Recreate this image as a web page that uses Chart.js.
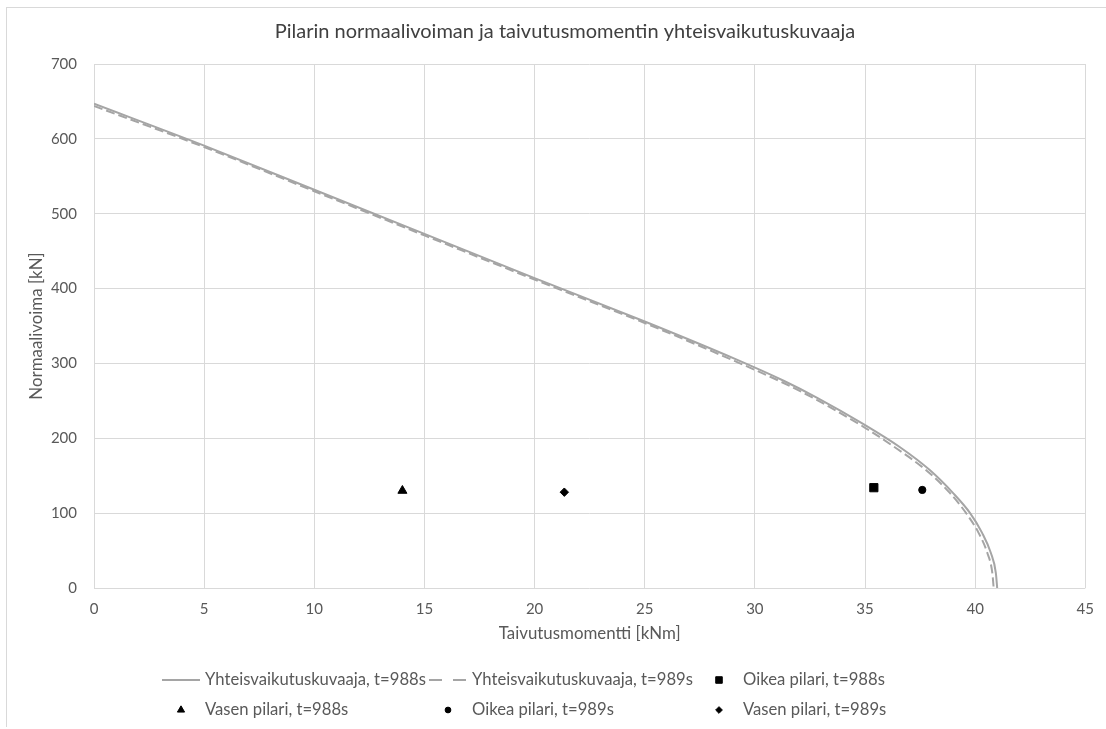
<!DOCTYPE html>
<html lang="fi">
<head>
<meta charset="utf-8">
<title>Pilarin normaalivoiman ja taivutusmomentin yhteisvaikutuskuvaaja</title>
<script src="https://cdn.jsdelivr.net/npm/chart.js@4/dist/chart.umd.min.js"></script>
<style>
  html, body { margin: 0; padding: 0; background: #ffffff; overflow: hidden; }
  #wrap { position: relative; width: 1106px; height: 729px; }
  #frame { position: absolute; left: 6px; top: 7px; right: -2px; bottom: 2px;
           border-left: 1px solid #d9d9d9; border-top: 1px solid #d9d9d9; pointer-events: none; }
  canvas { position: absolute; left: 0; top: 0; }
</style>
</head>
<body>
<div id="wrap">
  <canvas id="chart"></canvas>
  <div id="frame"></div>
</div>
<script>
// Taivutusmomentti [kNm] / Normaalivoima [kN]
const curve988M = [0, 5, 10, 15, 20, 25, 29.1, 31.33, 32.83, 34.95, 36.59, 37.94, 38.99, 39.77, 40.31, 40.71, 40.94, 41.0];
const curve988N = [647, 591, 532, 473, 414, 356, 306, 276.5, 254, 218.5, 188, 157.5, 127, 100, 74, 47, 20, 0];

const curve989M = [0, 5, 10, 15, 20, 25, 29.1, 31.33, 32.83, 34.95, 36.5, 37.79, 38.85, 39.59, 40.15, 40.55, 40.78, 40.84];
const curve989N = [644, 589, 530, 471, 412, 354, 303, 273.5, 251, 215, 185, 157, 127, 100, 74, 47, 20, 0];

// Mitoittavat pisteet (M, N)
const oikea988 = [35.4, 134];
const vasen988 = [14.0, 130];
const oikea989 = [37.6, 131];
const vasen989 = [21.35, 128];

const seriesLabels = [
  'Yhteisvaikutuskuvaaja, t=988s',
  'Yhteisvaikutuskuvaaja, t=989s',
  'Oikea pilari, t=988s',
  'Vasen pilari, t=988s',
  'Oikea pilari, t=989s',
  'Vasen pilari, t=989s'
];

const chartTitle = 'Pilarin normaalivoiman ja taivutusmomentin yhteisvaikutuskuvaaja';
const xTitle = 'Taivutusmomentti [kNm]';
const yTitle = 'Normaalivoima [kN]';

const xTicks = [0, 5, 10, 15, 20, 25, 30, 35, 40, 45];
const yTicks = [0, 100, 200, 300, 400, 500, 600, 700];

const FONT = 'Lato, "Open Sans", "Liberation Sans", sans-serif';
const TEXT = '#595959';
const GRID = '#d9d9d9';
const LINE = '#a5a5a5';

// Size a font so that a given string spans the wanted width
const measureCtx = document.createElement('canvas').getContext('2d');
function fitSize(text, span) {
  measureCtx.font = '16px ' + FONT;
  const w = measureCtx.measureText(text).width;
  return w > 0 ? 16 * span / w : 16;
}
const legendSize = Math.min(19, Math.max(14, fitSize(seriesLabels[0], 221)));
const axisTitleSize = Math.min(20, Math.max(14, fitSize(xTitle, 182)));

const toPoints = (xs, ys) => xs.map((x, i) => ({ x: x, y: ys[i] }));
const onePoint = (p) => [{ x: p[0], y: p[1] }];

const markerSet = (label, p, style, radius) => ({
  label: label,
  data: onePoint(p),
  showLine: false,
  pointStyle: style,
  pointRadius: radius,
  pointHoverRadius: radius,
  pointBackgroundColor: '#000000',
  pointBorderColor: '#000000',
  pointBorderWidth: 1
});

const curveSet = (label, xs, ys, dash) => ({
  label: label,
  data: toPoints(xs, ys),
  showLine: true,
  borderColor: LINE,
  borderWidth: 2,
  borderDash: dash,
  cubicInterpolationMode: 'monotone',
  pointRadius: 0,
  pointHoverRadius: 0,
  fill: false
});

// Legend drawn as a 3-column grid under the plot
const gridLegend = {
  id: 'gridLegend',
  afterDraw(chart) {
    const ctx = chart.ctx;
    const cols = [162, 429, 700];
    const rows = [680, 710];
    const keyW = 38;
    ctx.save();
    ctx.font = legendSize.toFixed(2) + 'px ' + FONT;
    ctx.textBaseline = 'middle';
    ctx.textAlign = 'left';
    chart.data.datasets.forEach((ds, i) => {
      const kx = cols[i % 3];
      const ky = rows[Math.floor(i / 3)];
      if (ds.showLine) {
        ctx.save();
        ctx.strokeStyle = ds.borderColor;
        ctx.lineWidth = ds.borderWidth;
        ctx.setLineDash(ds.borderDash && ds.borderDash.length ? [13, 11] : []);
        ctx.beginPath();
        ctx.moveTo(kx, ky);
        ctx.lineTo(kx + keyW, ky);
        ctx.stroke();
        ctx.restore();
      } else {
        ctx.save();
        ctx.fillStyle = ds.pointBackgroundColor;
        ctx.strokeStyle = ds.pointBorderColor;
        ctx.lineWidth = ds.pointBorderWidth;
        Chart.helpers.drawPoint(ctx, {
          pointStyle: ds.pointStyle,
          radius: ds.pointRadius * 0.8,
          borderWidth: ds.pointBorderWidth,
          rotation: 0
        }, kx + keyW / 2, ky);
        ctx.restore();
      }
      ctx.fillStyle = TEXT;
      ctx.fillText(ds.label, kx + keyW + 5, ky);
    });
    ctx.restore();
  }
};

new Chart(document.getElementById('chart'), {
  type: 'scatter',
  data: {
    datasets: [
      curveSet(seriesLabels[0], curve988M, curve988N, []),
      curveSet(seriesLabels[1], curve989M, curve989N, [9, 4]),
      markerSet(seriesLabels[2], oikea988, 'rect', 5.8),
      markerSet(seriesLabels[3], vasen988, 'triangle', 5.2),
      markerSet(seriesLabels[4], oikea989, 'circle', 3.6),
      markerSet(seriesLabels[5], vasen989, 'rectRot', 4.2)
    ]
  },
  options: {
    responsive: true,
    maintainAspectRatio: false,
    animation: false,
    layout: { padding: { left: 36, right: 12, top: 0, bottom: 81 } },
    plugins: {
      legend: { display: false },
      tooltip: { enabled: false },
      title: {
        display: true,
        text: chartTitle,
        color: '#404040',
        font: { family: FONT, size: 20, weight: 'normal' },
        padding: { top: 20, bottom: 20 }
      }
    },
    scales: {
      x: {
        type: 'linear',
        min: xTicks[0],
        max: xTicks[xTicks.length - 1],
        afterBuildTicks: (scale) => { scale.ticks = xTicks.map(v => ({ value: v })); },
        afterFit: (scale) => { scale.height = 60; },
        grid: { color: GRID, lineWidth: 1, drawTicks: false },
        border: { display: false },
        ticks: { color: TEXT, padding: 12, font: { family: FONT, size: 15 } },
        title: {
          display: true,
          text: xTitle,
          color: TEXT,
          font: { family: FONT, size: axisTitleSize },
          padding: { top: 0, bottom: 14 - 0.6 * axisTitleSize }
        }
      },
      y: {
        type: 'linear',
        min: yTicks[0],
        max: yTicks[yTicks.length - 1],
        afterBuildTicks: (scale) => { scale.ticks = yTicks.map(v => ({ value: v })); },
        afterFit: (scale) => { scale.width = 58; },
        grid: { color: GRID, lineWidth: 1, drawTicks: false },
        border: { display: false },
        ticks: { color: TEXT, padding: 17, font: { family: FONT, size: 15 } },
        title: {
          display: true,
          text: yTitle,
          color: TEXT,
          font: { family: FONT, size: axisTitleSize },
          padding: { top: 1 - 0.6 * axisTitleSize, bottom: 0 }
        }
      }
    }
  },
  plugins: [gridLegend]
});
</script>
</body>
</html>
